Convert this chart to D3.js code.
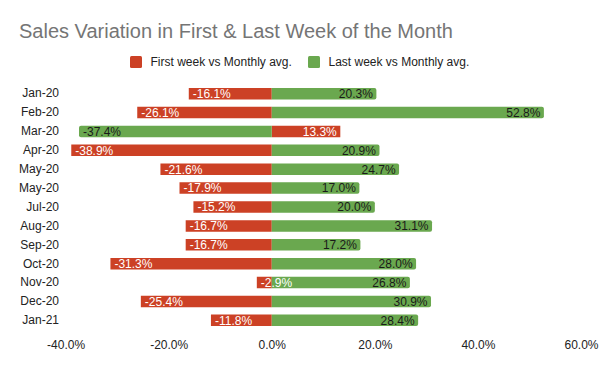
<!DOCTYPE html>
<html>
<head>
<meta charset="utf-8">
<script src="https://cdn.jsdelivr.net/npm/d3@7"></script>
<style>
  body { margin: 0; background: #fff; }
  svg { display: block; font-family: "Liberation Sans", Arial, sans-serif; }
</style>
</head>
<body>
<div id="canvas"></div>
<script>
// data
var categories = ["Jan-20", "Feb-20", "Mar-20", "Apr-20", "May-20", "May-20", "Jul-20",
                  "Aug-20", "Sep-20", "Oct-20", "Nov-20", "Dec-20", "Jan-21"];
var firstWeek = [-16.1, -26.1, 13.3, -38.9, -21.6, -17.9, -15.2, -16.7, -16.7, -31.3, -2.9, -25.4, -11.8];
var lastWeek  = [20.3, 52.8, -37.4, 20.9, 24.7, 17.0, 20.0, 31.1, 17.2, 28.0, 26.8, 30.9, 28.4];
var seriesNames = ["First week vs Monthly avg.", "Last week vs Monthly avg."];
var xTicks = [-40, -20, 0, 20, 40, 60];

var canvasWidth = 600, canvasHeight = 371;
var colors = ["#cc4125", "#6aa84f"];
var textColors = ["#ffffff", "#1a1a1a"];

var svg = d3.select("#canvas").append("svg")
    .attr("width", canvasWidth)
    .attr("height", canvasHeight)
    .attr("viewBox", "0 0 " + canvasWidth + " " + canvasHeight);

var x = d3.scaleLinear().domain([-40, 60]).range([65.6, 581]);
var y = d3.scaleBand()
    .domain(d3.range(categories.length))
    .range([84.3, 329.7])
    .paddingInner(0.39)
    .paddingOuter(0.19);

// title
svg.append("text")
    .attr("x", 19)
    .attr("y", 37.7)
    .attr("fill", "#757575")
    .attr("font-size", 20)
    .text("Sales Variation in First & Last Week of the Month");

// legend
var legend = svg.append("g").attr("transform", "translate(130,56)");
var legendX = [0, 178];
seriesNames.forEach(function(name, i) {
    legend.append("rect")
        .attr("x", legendX[i])
        .attr("y", 0)
        .attr("width", 12)
        .attr("height", 12)
        .attr("rx", 1.5)
        .attr("fill", colors[i]);
    legend.append("text")
        .attr("x", legendX[i] + 20.5)
        .attr("y", 10.3)
        .attr("font-size", 12)
        .attr("fill", "#222")
        .text(name);
});

// bars
var rows = categories.map(function(c, i) {
    return { i: i, values: [firstWeek[i], lastWeek[i]] };
});

function roundedBar(x0, x1, top, h, r) {
    // rounded corners at the outer end (x1)
    var dir = x1 >= x0 ? 1 : -1;
    r = Math.min(r, Math.abs(x1 - x0));
    return "M" + x0 + "," + top +
           "H" + (x1 - dir * r) +
           "Q" + x1 + "," + top + " " + x1 + "," + (top + r) +
           "V" + (top + h - r) +
           "Q" + x1 + "," + (top + h) + " " + (x1 - dir * r) + "," + (top + h) +
           "H" + x0 + "Z";
}

[0, 1].forEach(function(s) {
    svg.append("g").selectAll("path")
        .data(rows)
        .join("path")
        .attr("fill", colors[s])
        .attr("d", function(d) {
            return roundedBar(x(0), x(d.values[s]), y(d.i), y.bandwidth(), s == 1 ? 2 : 0);
        });
});

[0, 1].forEach(function(s) {
    svg.append("g").selectAll("text")
        .data(rows)
        .join("text")
        .attr("x", function(d) { return d.values[s] < 0 ? x(d.values[s]) + 4 : x(d.values[s]) - 3.5; })
        .attr("y", function(d) { return y(d.i) + y.bandwidth() / 2; })
        .attr("dy", "0.36em")
        .attr("text-anchor", function(d) { return d.values[s] < 0 ? "start" : "end"; })
        .attr("font-size", 12)
        .attr("fill", textColors[s])
        .text(function(d) { return d.values[s].toFixed(1) + "%"; });
});

// axes
var xAxis = svg.append("g")
    .attr("transform", "translate(0,340.5)")
    .call(d3.axisBottom(x).tickValues(xTicks).tickSize(0).tickPadding(0)
          .tickFormat(function(d) { return d.toFixed(1) + "%"; }));
xAxis.select(".domain").remove();
xAxis.selectAll("text").attr("font-size", 12).attr("fill", "#222")
    .attr("font-family", "Liberation Sans, Arial, sans-serif");

var yAxis = svg.append("g")
    .attr("transform", "translate(62,0)")
    .call(d3.axisLeft(y).tickSize(0).tickPadding(3)
          .tickFormat(function(i) { return categories[i]; }));
yAxis.select(".domain").remove();
yAxis.selectAll("text").attr("font-size", 12).attr("fill", "#222")
    .attr("font-family", "Liberation Sans, Arial, sans-serif");
</script>
</body>
</html>
